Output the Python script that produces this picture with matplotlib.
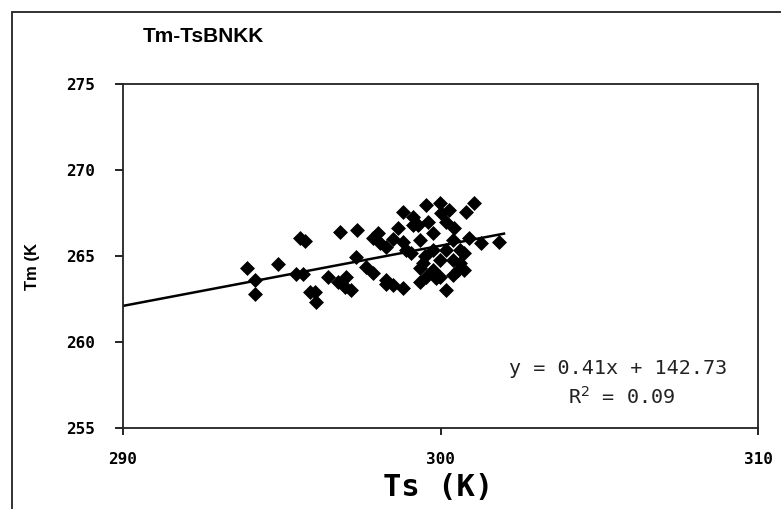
import matplotlib
matplotlib.use("Agg")
import matplotlib.pyplot as plt
from matplotlib.patches import Rectangle

ts = [293.91, 294.15, 294.15, 294.88, 295.57, 295.72, 295.46, 295.67, 295.88, 296.09,
      296.04, 296.46, 296.77, 296.82, 297.03, 297.19, 296.98, 297.37, 297.35, 297.66,
      297.87, 298.03, 298.08, 298.29, 297.87, 298.29, 298.29, 298.50, 298.66, 298.81,
      298.81, 298.92, 299.08, 299.13, 299.29, 299.34, 299.34, 299.44, 299.55, 299.60,
      299.76, 299.76, 299.76, 299.86, 299.97, 300.02, 300.18, 300.18, 300.28, 300.39,
      300.39, 300.44, 300.54, 300.60, 300.75, 300.75, 300.81, 301.07, 300.91, 301.28,
      301.85, 299.34, 299.55, 299.97, 300.39, 300.60, 299.50, 298.81, 298.50, 299.13,
      299.97, 300.18]
tm = [264.29, 263.60, 262.80, 264.53, 266.03, 265.89, 263.95, 263.95, 262.92, 262.34,
      262.93, 263.80, 263.50, 266.41, 263.80, 263.02, 263.20, 266.51, 264.96, 264.38,
      266.03, 266.32, 265.74, 265.54, 264.00, 263.60, 263.40, 263.30, 266.61, 267.58,
      263.12, 265.35, 265.16, 267.29, 266.80, 265.93, 263.50, 264.58, 267.97, 266.99,
      266.32, 265.35, 264.19, 263.70, 268.06, 267.48, 266.99, 263.02, 267.67, 265.93,
      264.77, 266.61, 264.19, 265.35, 265.16, 264.20, 267.58, 268.06, 266.03, 265.74,
      265.80, 264.29, 263.80, 263.80, 263.90, 264.58, 265.00, 265.80, 266.00, 266.80,
      264.77, 265.35]

fit_x = [290.0, 302.0]
fit_y = [262.1, 266.3]

x_ticks = [290, 300, 310]
y_ticks = [255, 260, 265, 270, 275]

MONO = "DejaVu Sans Mono"
SANS = "Liberation Sans"

W, H = 781, 509
fig = plt.figure(figsize=(W / 100, H / 100), dpi=100)
fig.patch.set_facecolor("white")

# outer frame
fig.patches.append(Rectangle((12 / W, -0.2), 1.2, 1.2 - 12 / H,
                             transform=fig.transFigure, fill=False,
                             edgecolor="#222222", linewidth=1.3))

ax = fig.add_axes([123 / W, 1 - 428 / H, (758 - 123) / W, (428 - 84) / H])
ax.scatter(ts, tm, marker="D", s=58, color="black", zorder=3, linewidths=0)
ax.plot(fit_x, fit_y, color="black", linewidth=1.8, zorder=2)

ax.set_xlim(290, 310)
ax.set_ylim(255, 275)
ax.set_xticks(x_ticks)
ax.set_yticks(y_ticks)
ax.set_xticklabels([str(v) for v in x_ticks], fontsize=11.5, fontweight="bold",
                   family=MONO)
ax.set_yticklabels([str(v) for v in y_ticks], fontsize=11.5, fontweight="bold",
                   family=MONO)
ax.tick_params(axis="x", direction="out", length=5, width=1.2, pad=12)
ax.tick_params(axis="y", direction="out", length=6, width=1.2, pad=14)
for sp in ax.spines.values():
    sp.set_linewidth(1.3)
    sp.set_color("#222222")

fig.text(143 / W, 1 - 36 / H, "Tm-TsBNKK", fontsize=15, fontweight="bold",
         family=SANS, ha="left", va="center")
fig.text(438 / W, 1 - 488 / H, "Ts (K)", fontsize=22, fontweight="bold",
         family=MONO, ha="center", va="center")
fig.text(33 / W, 1 - 266 / H, "Tm (K", fontsize=12, fontweight="bold",
         family=SANS, ha="center", va="center", rotation=90)

fig.text(618 / W, 1 - 368 / H, "y = 0.41x + 142.73",
         fontsize=14.5, family=MONO, ha="center", va="center", color="#222222")
fig.text(622 / W, 1 - 397 / H, "R$^2$ = 0.09",
         fontsize=14.5, family=MONO, ha="center", va="center", color="#222222")

fig.savefig("out.png", dpi=100)
